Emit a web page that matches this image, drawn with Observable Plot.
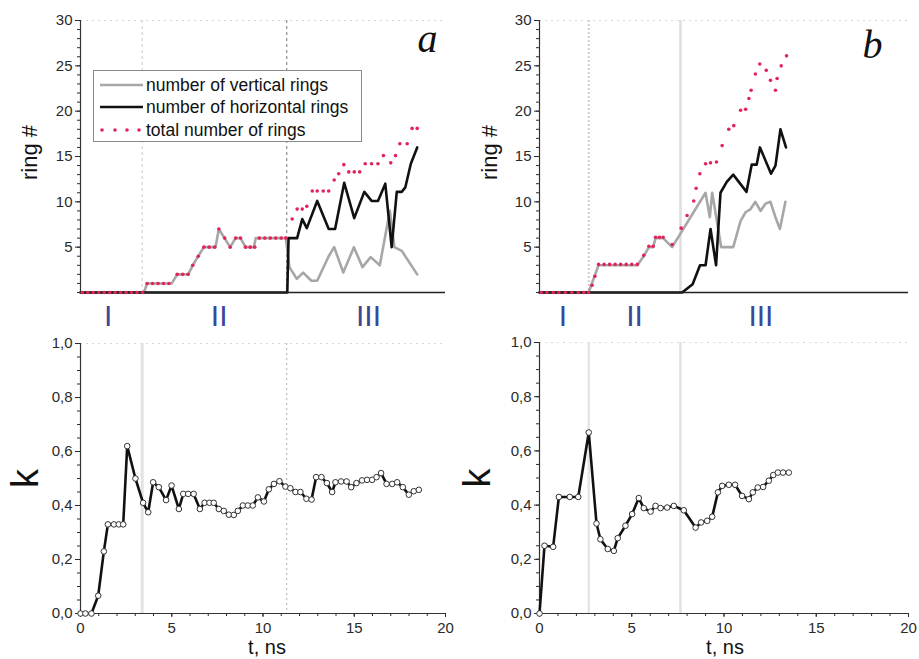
<!DOCTYPE html>
<html><head><meta charset="utf-8">
<script src="https://cdn.jsdelivr.net/npm/d3@7"></script>
<script src="https://cdn.jsdelivr.net/npm/@observablehq/plot@0.6"></script>
<style>
body{margin:0;background:#fff;}
#wrap{position:relative;width:919px;height:659px;overflow:hidden;background:#fff;}
.panel{position:absolute;}
.panel svg{overflow:visible;}
</style></head><body><div id="wrap"></div>
<script>
// ---------- tick labels ----------
const ringTicks = [5, 10, 15, 20, 25, 30];
const kTicks = [0, 0.2, 0.4, 0.6, 0.8, 1.0];
const tTicks = [0, 5, 10, 15, 20];
const stageLabels = ["I", "II", "III"];
const aStageTimes = [1.52, 7.6, 15.78];
const bStageTimes = [1.27, 5.15, 12.0];
const aBounds = [3.38, 11.3];
const bBounds = [2.67, 7.64];

// ---------- panel a : rings ----------
const aVertTime = [0, 3.47, 3.65, 5.0, 5.3, 5.9, 6.15, 6.45, 6.76, 7.4, 7.58, 8.2, 8.5, 8.77, 9.04, 9.5, 9.6, 11.25, 11.45, 11.85, 12.2, 12.65, 12.97, 13.6, 13.9, 14.4, 14.98, 15.45, 15.9, 16.4, 16.95, 17.2, 17.6, 18.45];
const aVert     = [0, 0, 1, 1, 2, 2, 3, 4, 5, 5, 7, 5, 6, 6, 5, 5, 6, 6, 2.8, 1.5, 2.2, 1.3, 1.3, 4.0, 5.0, 2.2, 5.0, 2.8, 3.9, 3.0, 9.0, 5.0, 4.6, 2.0];
const aHorTime  = [0, 11.33, 11.4, 11.87, 12.15, 12.4, 12.97, 13.6, 13.95, 14.45, 15.0, 15.55, 15.95, 16.3, 16.7, 17.05, 17.33, 17.6, 17.8, 18.1, 18.45];
const aHor      = [0, 0, 6, 6, 8.1, 7.1, 10.1, 7.0, 7.0, 12.1, 8.2, 11.1, 10.1, 10.1, 12.0, 5.0, 11.1, 11.1, 11.6, 14.2, 16.0];
const aTotTime  = [0.1, 0.4, 0.7, 1.0, 1.3, 1.6, 1.9, 2.2, 2.5, 2.8, 3.1, 3.4, 3.65, 3.95, 4.25, 4.55, 4.85, 5.3, 5.6, 5.9, 6.15, 6.45, 6.76, 7.05, 7.35, 7.58, 7.9, 8.2, 8.5, 8.77, 9.04, 9.3, 9.55, 9.8, 10.1, 10.4, 10.7, 11.0, 11.25, 11.6, 11.87, 12.15, 12.4, 12.7, 12.97, 13.3, 13.6, 13.9, 14.15, 14.43, 14.7, 15.0, 15.3, 15.6, 15.95, 16.3, 16.6, 17.0, 17.26, 17.5, 17.9, 18.17, 18.45];
const aTot      = [0, 0, 0, 0, 0, 0, 0, 0, 0, 0, 0, 0, 1, 1, 1, 1, 1, 2, 2, 2, 3, 4, 5, 5, 5, 7, 6, 5, 6, 6, 5, 5, 5, 6, 6, 6, 6, 6, 6, 8.1, 9.2, 9.2, 9.5, 11.2, 11.2, 11.2, 11.2, 12.4, 13.1, 14.1, 13.3, 13.3, 13.3, 14.2, 14.2, 14.2, 15.1, 14.3, 15.1, 16.4, 16.4, 18.1, 18.1];

// ---------- panel b : rings ----------
const bVertTime = [0, 2.66, 3.2, 5.3, 5.65, 5.93, 6.16, 6.29, 6.7, 7.19, 9.0, 9.23, 9.36, 9.85, 10.5, 10.9, 11.17, 11.44, 11.7, 11.98, 12.25, 12.52, 12.79, 13.03, 13.33];
const bVert     = [0, 0, 3, 3, 4, 5, 5, 6, 6, 5, 11, 8.3, 11, 5, 5, 7.9, 8.85, 9.2, 10, 9, 9.8, 10, 8.3, 7, 10];
const bHorTime  = [0, 7.73, 8.3, 8.7, 9.0, 9.27, 9.57, 9.81, 10.15, 10.5, 11.22, 11.5, 11.77, 11.95, 12.55, 12.79, 13.06, 13.36];
const bHor      = [0, 0, 0.9, 3, 3, 7, 3, 11, 12.2, 13, 11.1, 14.1, 14.1, 16, 13.1, 14, 18, 16];
const bTotTime  = [0.1, 0.4, 0.75, 1.05, 1.4, 1.75, 2.1, 2.4, 2.66, 2.85, 3.0, 3.2, 3.5, 3.8, 4.1, 4.4, 4.7, 5.0, 5.3, 5.65, 5.93, 6.16, 6.29, 6.5, 6.7, 7.19, 7.68, 8.0, 8.36, 8.49, 8.69, 9.0, 9.27, 9.59, 9.9, 10.26, 10.53, 10.9, 11.17, 11.35, 11.47, 11.7, 11.94, 12.29, 12.52, 12.79, 12.88, 13.1, 13.39];
const bTot      = [0, 0, 0, 0, 0, 0, 0, 0, 0, 0.8, 1.8, 3.1, 3.1, 3.1, 3.1, 3.1, 3.1, 3.1, 3.1, 4.1, 5.1, 5.1, 6.1, 6.1, 6.1, 5.3, 7.1, 8.5, 10.1, 11.5, 13.1, 14.2, 14.3, 14.4, 16.2, 18.0, 18.4, 20.1, 20.2, 21.4, 22.3, 24.1, 25.2, 24.5, 23.4, 22.3, 23.6, 25.0, 26.1];

// ---------- k(t) ----------
const aKTime = [0, 0.27, 0.6, 0.97, 1.28, 1.5, 1.83, 2.1, 2.34, 2.56, 3.01, 3.43, 3.71, 3.98, 4.29, 4.69, 4.99, 5.39, 5.63, 5.9, 6.2, 6.54, 6.8, 7.07, 7.3, 7.58, 7.85, 8.13, 8.4, 8.62, 8.9, 9.17, 9.44, 9.72, 10.05, 10.32, 10.6, 10.9, 11.23, 11.5, 11.78, 12.05, 12.38, 12.66, 12.91, 13.2, 13.5, 13.79, 13.97, 14.28, 14.58, 14.83, 15.12, 15.43, 15.7, 15.98, 16.22, 16.47, 16.77, 17.08, 17.35, 17.66, 17.99, 18.26, 18.54];
const aK     = [0, 0, 0, 0.066, 0.23, 0.33, 0.33, 0.33, 0.33, 0.62, 0.50, 0.41, 0.375, 0.486, 0.468, 0.42, 0.474, 0.387, 0.443, 0.443, 0.443, 0.387, 0.41, 0.41, 0.41, 0.387, 0.38, 0.366, 0.365, 0.38, 0.40, 0.40, 0.40, 0.43, 0.415, 0.46, 0.48, 0.49, 0.47, 0.464, 0.45, 0.45, 0.425, 0.422, 0.505, 0.505, 0.483, 0.45, 0.486, 0.489, 0.489, 0.468, 0.483, 0.493, 0.495, 0.495, 0.505, 0.52, 0.48, 0.48, 0.486, 0.468, 0.44, 0.453, 0.458];
const bKTime = [0, 0.27, 0.74, 1.05, 1.64, 2.1, 2.67, 3.09, 3.3, 3.7, 4.03, 4.24, 4.66, 5.02, 5.38, 5.65, 6.02, 6.29, 6.56, 6.92, 7.28, 7.82, 8.46, 8.76, 9.09, 9.36, 9.67, 9.9, 10.26, 10.6, 10.98, 11.35, 11.56, 11.83, 12.12, 12.43, 12.67, 12.92, 13.2, 13.51];
const bK     = [0, 0.25, 0.246, 0.43, 0.43, 0.43, 0.668, 0.332, 0.274, 0.238, 0.231, 0.278, 0.324, 0.367, 0.426, 0.389, 0.376, 0.397, 0.389, 0.391, 0.397, 0.381, 0.317, 0.336, 0.342, 0.357, 0.447, 0.471, 0.475, 0.475, 0.434, 0.422, 0.447, 0.465, 0.467, 0.49, 0.511, 0.52, 0.52, 0.52];

const FONT = '"Liberation Sans", Arial, Helvetica, sans-serif';
const rows = (ts, vs) => ts.map((t, i) => ({t, v: vs[i]}));
const stageRows = ts => ts.map((t, i) => ({t, label: stageLabels[i]}));
const wrap = document.getElementById("wrap");

function place(node, left, top) {
  const d = document.createElement("div");
  d.className = "panel";
  d.style.left = left + "px";
  d.style.top = top + "px";
  d.appendChild(node);
  wrap.appendChild(d);
}

function ringPanel(o) {
  return Plot.plot({
    width: o.width, height: 330,
    marginLeft: o.ml, marginRight: o.mr, marginTop: 20, marginBottom: 38,
    x: {domain: [0, 20], axis: null},
    y: {domain: [0, 30]},
    style: {fontFamily: FONT, fontSize: "15px", color: "#2a2a2a", background: "transparent", overflow: "visible"},
    marks: [
      Plot.ruleY([30], {stroke: "#d4d4d4", strokeDasharray: "2,4"}),
      ...o.refs,
      Plot.axisY({ticks: 30, tickSize: 3, tickFormat: () => "", label: null}),
      Plot.axisY({ticks: ringTicks, tickSize: 5, tickPadding: 3, label: null, fontSize: 15}),
      Plot.ruleX([0], {stroke: "#333", strokeWidth: 1.2}),
      Plot.line(rows(o.vt, o.v), {x: "t", y: "v", stroke: "#a7a7a7", strokeWidth: 2.6}),
      Plot.line(rows(o.ht, o.h), {x: "t", y: "v", stroke: "#111", strokeWidth: 2.6}),
      Plot.ruleY([0], {stroke: "#222", strokeWidth: 1.4}),
      Plot.dot(rows(o.tt, o.tot), {x: "t", y: "v", r: 1.8, fill: "#e2245a", stroke: "none"}),
      Plot.text(stageRows(o.stages), {x: "t", y: 0, text: "label", dy: 24, fill: "#3a479a", fontSize: 30, fontFamily: FONT, lineAnchor: "middle"}),
      Plot.text(["ring #"], {text: d => d, frameAnchor: "left", dx: o.ldx, dy: -4, rotate: -90, textAnchor: "middle", lineAnchor: "middle", fontSize: 22, fill: "#111"}),
      Plot.text([o.letter], {text: d => d, frameAnchor: "top-right", dx: o.pdx, dy: o.pdy, textAnchor: "middle", lineAnchor: "middle", fontSize: 40, fontStyle: "italic", fontFamily: '"Liberation Serif", "Times New Roman", serif', fill: "#111"})
    ]
  });
}

function kPanel(o) {
  const fmt = d => d.toFixed(1).replace(".", ",");
  return Plot.plot({
    width: o.width, height: 329,
    marginLeft: o.ml, marginRight: o.mr, marginTop: o.mt, marginBottom: 46,
    x: {domain: [0, 20]},
    y: {domain: [0, 1]},
    style: {fontFamily: FONT, fontSize: "15px", color: "#2a2a2a", background: "transparent", overflow: "visible"},
    marks: [
      Plot.ruleY([1], {stroke: "#d8d8d8", strokeDasharray: "2,4"}),
      ...o.refs,
      Plot.axisX({ticks: 20, tickSize: 3, tickFormat: () => "", label: null}),
      Plot.axisX({ticks: tTicks, tickSize: 4, tickPadding: 5, label: null, fontSize: 15}),
      Plot.axisY({ticks: 20, tickSize: 3, tickFormat: () => "", label: null}),
      Plot.axisY({ticks: kTicks, tickSize: 5, tickPadding: 3, tickFormat: fmt, label: null, fontSize: 15}),
      Plot.ruleX([0], {stroke: "#333", strokeWidth: 1.2}),
      Plot.ruleY([0], {stroke: "#333", strokeWidth: 1.2}),
      Plot.line(rows(o.kt, o.k), {x: "t", y: "v", stroke: "#111", strokeWidth: 2.6}),
      Plot.dot(rows(o.kt, o.k), {x: "t", y: "v", r: 2.8, fill: "#fff", stroke: "#333", strokeWidth: 1}),
      Plot.text(["k"], {text: d => d, frameAnchor: "left", dx: o.kdx, rotate: -90, textAnchor: "middle", lineAnchor: "middle", fontSize: 38, fill: "#111"}),
      Plot.text(["t, ns"], {text: d => d, frameAnchor: "bottom", dx: o.tdx, dy: 34, textAnchor: "middle", lineAnchor: "middle", fontSize: 20, fill: "#111"})
    ]
  });
}

place(ringPanel({
  width: 460, ml: 80, mr: 15, vt: aVertTime, v: aVert, ht: aHorTime, h: aHor, tt: aTotTime, tot: aTot,
  stages: aStageTimes, ldx: -51, letter: "a", pdx: -18, pdy: 19,
  refs: [
    Plot.ruleX([aBounds[0]], {stroke: "#c8c8c8", strokeDasharray: "3,3", strokeWidth: 1}),
    Plot.ruleX([aBounds[1]], {stroke: "#8f8f8f", strokeDasharray: "3,3", strokeWidth: 1.2})
  ]
}), 0, 0);

place(ringPanel({
  width: 459, ml: 79, mr: 11, vt: bVertTime, v: bVert, ht: bHorTime, h: bHor, tt: bTotTime, tot: bTot,
  stages: bStageTimes, ldx: -50, letter: "b", pdx: -36, pdy: 25,
  refs: [
    Plot.ruleX([bBounds[0]], {stroke: "#cdcdcd", strokeDasharray: "2,2", strokeWidth: 2}),
    Plot.ruleX([bBounds[1]], {stroke: "#dedede", strokeWidth: 2.5})
  ]
}), 460, 0);

place(kPanel({
  width: 460, ml: 80, mr: 15, mt: 13, kt: aKTime, k: aK, kdx: -55, tdx: 4,
  refs: [
    Plot.ruleX([aBounds[0]], {stroke: "#e3e3e3", strokeWidth: 3}),
    Plot.ruleX([aBounds[1]], {stroke: "#b0b0b0", strokeDasharray: "2,3", strokeWidth: 1})
  ]
}), 0, 330);

place(kPanel({
  width: 459, ml: 79, mr: 11, mt: 12, kt: bKTime, k: bK, kdx: -62, tdx: 1,
  refs: [
    Plot.ruleX([bBounds[0]], {stroke: "#e6e6e6", strokeWidth: 2.5}),
    Plot.ruleX([bBounds[1]], {stroke: "#e2e2e2", strokeWidth: 2.5})
  ]
}), 460, 330);

// legend (panel a)
const legendItems = ["number of vertical rings", "number of horizontal rings", "total number of rings"];
const NS = "http://www.w3.org/2000/svg";
const lg = document.createElementNS(NS, "svg");
lg.setAttribute("width", 270); lg.setAttribute("height", 73);
lg.style.position = "absolute"; lg.style.left = "93px"; lg.style.top = "70px";
let html = '<rect x="0.5" y="0.5" width="268" height="71" fill="#fff" stroke="#8a8a8a" stroke-width="1"/>';
html += '<line x1="7" x2="50" y1="15" y2="15" stroke="#a7a7a7" stroke-width="2.6"/>';
html += '<line x1="7" x2="50" y1="37" y2="37" stroke="#111" stroke-width="2.6"/>';
[9, 22, 34, 46].forEach(x => { html += `<circle cx="${x}" cy="60" r="1.8" fill="#e2245a"/>`; });
[15, 37, 60].forEach((y, i) => {
  html += `<text x="53" y="${y}" dominant-baseline="central" font-family='${FONT}' font-size="17.5" fill="#111">${legendItems[i]}</text>`;
});
lg.innerHTML = html;
wrap.appendChild(lg);
</script>
</body></html>
